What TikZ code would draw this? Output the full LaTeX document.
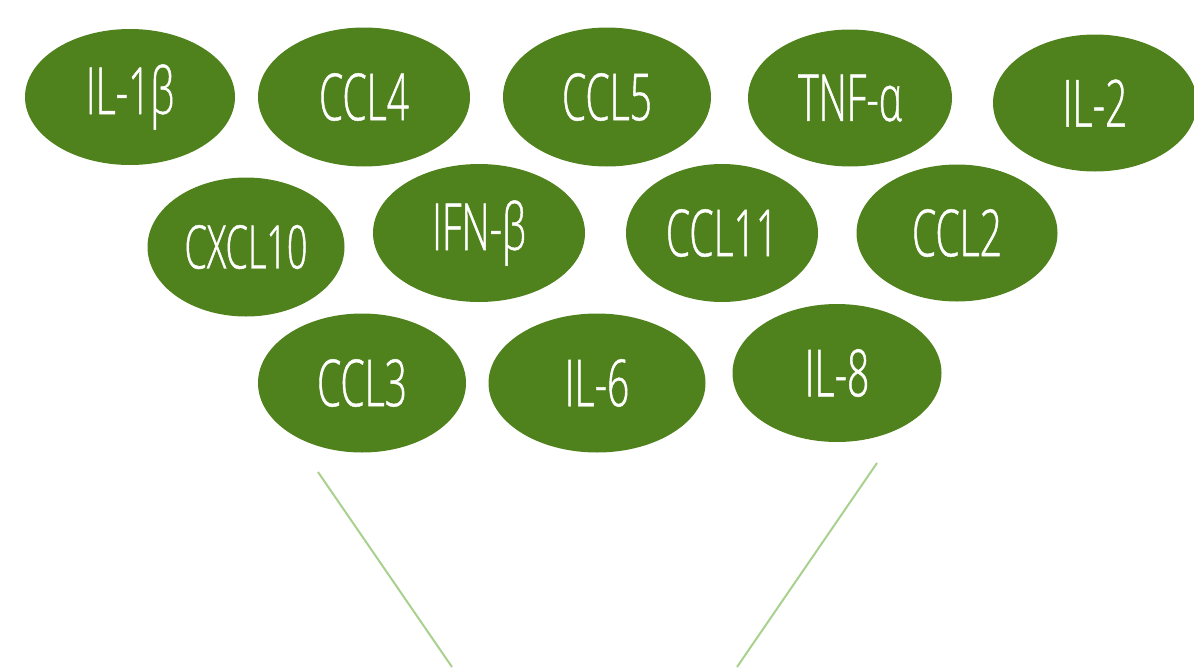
\documentclass[tikz,border=0pt]{standalone}
\usepackage{fontspec}
\setmainfont{Open Sans Light}[FakeStretch=0.6, FakeBold=0.7]
\usetikzlibrary{shapes.geometric}
\definecolor{leaf}{RGB}{79,129,29}
\definecolor{stem}{RGB}{169,209,142}
\tikzset{
  cyto/.style={ellipse, fill=leaf, draw=none, inner sep=0pt,
    text=white, font=\fontsize{65}{67}\selectfont},
  funnel/.style={draw=stem, line width=2pt}
}
\begin{document}
\begin{tikzpicture}[x=1pt,y=-1pt]
\useasboundingbox (0,0) rectangle (1194,667);
% top row
\node[cyto, minimum width=210, minimum height=136] (il1b)  at (130,97)  {IL-1β};
\node[cyto, minimum width=212, minimum height=139] (ccl4)  at (364,97)  {CCL4};
\node[cyto, minimum width=208, minimum height=139] (ccl5)  at (607,97)  {CCL5};
\node[cyto, minimum width=204, minimum height=137] (tnfa)  at (850,98)  {TNF-α};
\node[cyto, minimum width=204, minimum height=137] (il2)   at (1095,103) {IL-2};
% middle row
\node[cyto, minimum width=197, minimum height=139] (cxcl10) at (246,247) {\fontsize{60}{62}\selectfont CXCL10};
\node[cyto, minimum width=212, minimum height=138] (ifnb)   at (479,233) {IFN-β};
\node[cyto, minimum width=192, minimum height=138] (ccl11)  at (722,233) {CCL11};
\node[cyto, minimum width=201, minimum height=137] (ccl2)   at (957,233) {CCL2};
% bottom row
\node[cyto, minimum width=208, minimum height=139] (ccl3) at (362,383) {CCL3};
\node[cyto, minimum width=217, minimum height=139] (il6)  at (597,383) {IL-6};
\node[cyto, minimum width=209, minimum height=138] (il8)  at (837,373) {IL-8};
% funnel sides
\coordinate (fl1) at (318,472);
\coordinate (fl2) at (452,667);
\coordinate (fr1) at (877,463);
\coordinate (fr2) at (737,667);
\draw[funnel] (fl1) -- (fl2);
\draw[funnel] (fr1) -- (fr2);
\end{tikzpicture}
\end{document}
